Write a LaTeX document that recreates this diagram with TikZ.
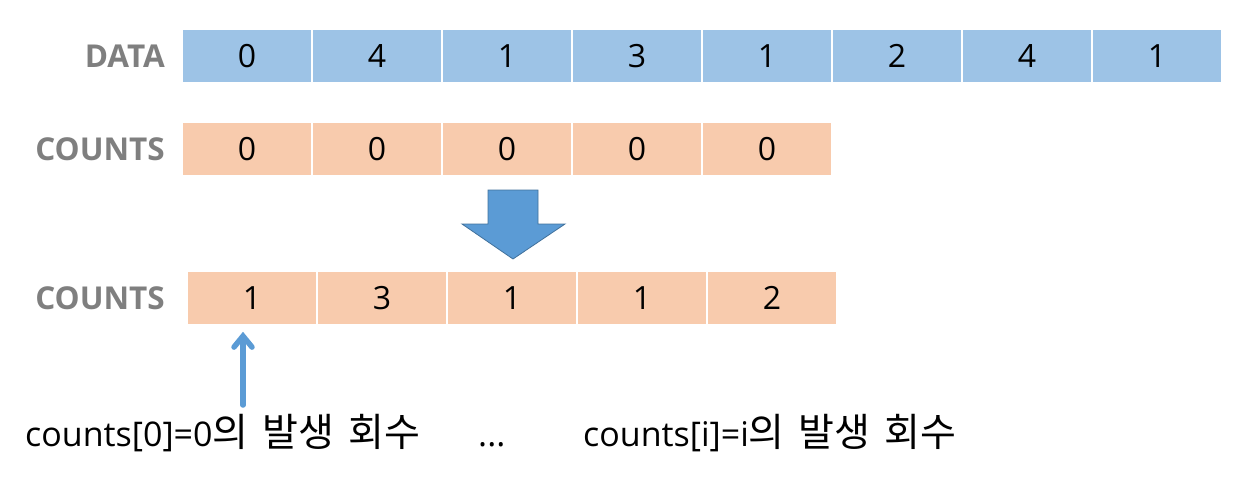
\documentclass[tikz,border=0pt]{standalone}
\usepackage{fontspec}
\setmainfont{Open Sans}
\newfontfamily\kr{Noto Sans CJK KR}
\usetikzlibrary{arrows.meta}
\definecolor{cellblue}{HTML}{9DC3E6}
\definecolor{cellorange}{HTML}{F8CBAD}
\definecolor{labelgray}{HTML}{7F7F7F}
\definecolor{arrowblue}{HTML}{5B9BD5}
\definecolor{arrowedge}{HTML}{41719C}
\newcommand{\krw}[1]{{\kr\fontsize{39}{39}\selectfont #1}}
\newcommand{\wsp}{\hspace{14pt}}
\tikzset{
  cell/.style={draw=white, line width=1.5pt, minimum width=130pt, minimum height=54pt,
    inner sep=0pt, font=\fontsize{32}{32}\selectfont, text=black},
  datacell/.style={cell, fill=cellblue},
  countcell/.style={cell, fill=cellorange},
  rowlabel/.style={anchor=east, inner sep=0pt, text=labelgray, font=\fontsize{31.5}{31.5}\selectfont\bfseries},
  caption/.style={anchor=base west, inner sep=0pt, font=\fontsize{34}{34}\selectfont},
}
\begin{document}
\begin{tikzpicture}[x=1pt,y=-1pt]
\useasboundingbox (0,0) rectangle (1250,488);
% DATA row
\node[rowlabel] (ldata) at (165,56) {DATA};
\foreach \v [count=\i from 0] in {0,4,1,3,1,2,4,1}
  \node[datacell] (d\i) at ({247+130*\i},56) {\v};
% COUNTS initial
\node[rowlabel] (lcnt1) at (165,149) {COUNTS};
\foreach \v [count=\i from 0] in {0,0,0,0,0}
  \node[countcell] (a\i) at ({247+130*\i},149) {\v};
% big arrow
\draw[fill=arrowblue, draw=arrowedge, line width=0.8pt, line join=miter]
  (488,190) -- (538,190) -- (538,224) -- (565,224) -- (513,259) -- (462,224) -- (488,224) -- cycle;
% COUNTS result
\node[rowlabel] (lcnt2) at (165,298) {COUNTS};
\foreach \v [count=\i from 0] in {1,3,1,1,2}
  \node[countcell] (b\i) at ({252+130*\i},298) {\v};
% small arrow
\coordinate (p) at (243,405);
\draw[arrowblue, line width=5.5pt, line cap=round,
  -{Straight Barb[length=11pt,width=18pt,line cap=round]}, shorten >=6pt]
  (p) -- (p |- b0.south);
% captions
\node[caption] (t1) at (25,446) {counts[0]=0\krw{의}\wsp\krw{발생}\wsp\krw{회수}};
\node[caption] (t2) at (478,446) {...};
\node[caption] (t3) at (583,446) {counts[i]=i\krw{의}\wsp\krw{발생}\wsp\krw{회수}};
\end{tikzpicture}
\end{document}
